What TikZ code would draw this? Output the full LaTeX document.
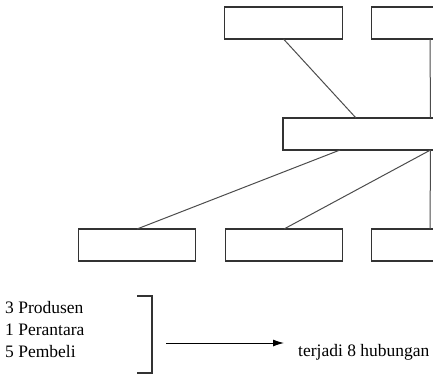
\documentclass[tikz,border=0pt]{standalone}
\usepackage{fontspec}
\setmainfont{Liberation Serif}
\usetikzlibrary{arrows.meta}
\begin{document}
\begin{tikzpicture}[x=1pt,y=-1pt,
  box/.style={draw=black!80,line width=1.1pt,fill=white,minimum width=117.5pt,minimum height=32pt,inner sep=0pt,outer sep=0pt},
  link/.style={draw=black!70,line width=1pt},
  label/.style={anchor=base west,inner sep=0pt,font=\rmfamily\fontsize{17.5}{21}\selectfont}]
  \clip (0,0) rectangle (433,375);
  % producers (top row)
  \node[box] (p1) at (283.5,23) {};
  \node[box] (p2) at (430,23) {};
  % intermediary
  \node[box,minimum width=300pt] (m) at (433,134) {};
  % buyers (bottom row)
  \node[box] (b1) at (137,245) {};
  \node[box] (b2) at (284,245) {};
  \node[box] (b3) at (430,245) {};
  % attachment points on the intermediary
  \coordinate (mt1) at (356,118);
  \coordinate (mt2) at (430.5,118);
  \coordinate (mb1) at (340,150);
  \coordinate (mb2) at (430.5,150);
  \draw[link] (p1.south) -- (mt1);
  \draw[link] (p2.south) -- (mt2);
  \draw[link] (mb1) -- (b1.north);
  \draw[link] (mb2) -- (b2.north);
  \draw[link] (mb2) -- (b3.north);
  % summary
  \node[label] (t1) at (5,313) {3 Produsen};
  \node[label] (t2) at (5,335) {1 Perantara};
  \node[label] (t3) at (5,357) {5 Pembeli};
  \coordinate (bt) at (152,296);
  \coordinate (bb) at (152,373);
  \draw[black!80,line width=1.1pt] ([xshift=-15pt]bt) -- (bt) -- (bb) -- ([xshift=-15pt]bb);
  \node[label] (res) at (298,356) {terjadi 8 hubungan};
  \coordinate (as) at (166,343);
  \coordinate (ae) at (284,343);
  \draw[line width=0.9pt,-{Latex[length=11pt,width=7pt]}] (as) -- (ae);
\end{tikzpicture}
\end{document}
